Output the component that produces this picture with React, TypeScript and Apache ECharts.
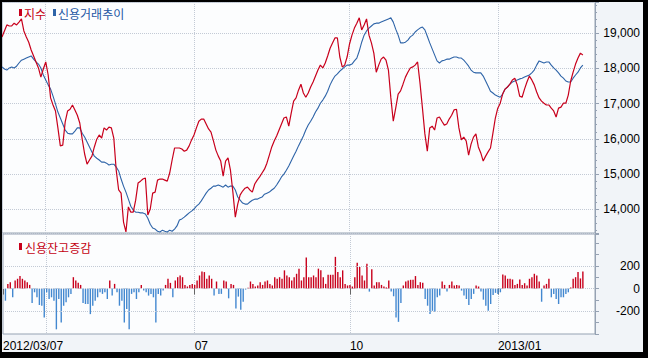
import { useEffect, useRef } from "react";
import * as echarts from "echarts";

// ---- calendar (trading days) ----
const START_DATE = "2012-03-07";
const HOLIDAYS = [
  "2012-04-11", "2012-05-01", "2012-05-28", "2012-06-06", "2012-08-15",
  "2012-10-01", "2012-10-03", "2012-12-19", "2012-12-25", "2012-12-31",
  "2013-01-01", "2013-02-11", "2013-03-01",
];
const AXIS_DAYS = 245;
const QUARTER_MONTHS = ["01", "04", "07", "10"];

// ---- series names ----
const INDEX_NAME = "지수";
const CREDIT_NAME = "신용거래추이";
const CHANGE_NAME = "신용잔고증감";

// ---- 지수 (red line) ----
const indexValues = [
  18890, 19060, 19230, 19200, 19200, 19280, 19230, 19310, 19400, 19060,
  18890, 18740, 18520, 18350, 18180, 18010, 17750, 17980, 18180, 17810,
  17160, 16960, 16790, 16310, 15800, 15820, 16480, 16790, 16840, 16960,
  16820, 16670, 16450, 15990, 15570, 15280, 15400, 15510, 15770, 15990,
  16110, 16020, 16310, 16250, 16330, 16310, 16020, 15110, 14550, 14460,
  13640, 13360, 14070, 13920, 13920, 14260, 14750, 14800, 14860, 14890,
  13840, 14010, 14460, 14490, 14830, 14860, 14860, 14830, 14800, 15030,
  15400, 15740, 15740, 15740, 15710, 15650, 15680, 15800, 15970, 16110,
  16310, 16500, 16560, 16560, 16420, 16280, 16190, 15940, 15680, 15510,
  15370, 14940, 15370, 15460, 15110, 14490, 13780, 14150, 14410, 14520,
  14600, 14630, 14550, 14490, 14720, 14830, 14920, 15030, 15140, 15310,
  15540, 15770, 15940, 16080, 16250, 16420, 16590, 16620, 16360, 16730,
  17070, 17160, 17380, 17550, 17300, 17180, 17300, 17470, 17610, 17780,
  17950, 18090, 18010, 18150, 18350, 18570, 18720, 18860, 18860, 18320,
  18040, 18090, 18320, 18690, 18940, 19140, 19280, 19430, 19090, 19230,
  19400, 18940, 18720, 18430, 17890, 18090, 18260, 18320, 18230, 17950,
  17160, 16500, 16870, 17270, 17360, 17550, 17750, 17890, 18010, 18040,
  18090, 18180, 17580, 16870, 16140, 15650, 16310, 16360, 16250, 16590,
  16620, 16500, 16390, 16420, 16560, 16670, 16820, 16840, 16310, 15970,
  16050, 15940, 15540, 15850, 16050, 16140, 15770, 15600, 15370, 15510,
  15630, 15740, 16160, 16590, 16870, 17010, 17270, 17410, 17470, 17550,
  17670, 17720, 17530, 17210, 17180, 17410, 17610, 17780, 17670, 17530,
  17330, 17160, 17070, 17010, 16960, 16960, 16870, 16790, 16620, 16870,
  16900, 17010, 17010, 17240, 17640, 17890, 18120, 18290, 18430, 18380,
];

// ---- 신용거래추이 (blue line) ----
const creditValues = [
  18040, 17980, 17950, 18010, 18040, 18010, 18060, 18150, 18230, 18260,
  18290, 18320, 18350, 18260, 18180, 18120, 18010, 17810, 17670, 17530,
  17410, 17210, 16990, 16760, 16590, 16420, 16250, 16160, 16140, 16140,
  16220, 16310, 16310, 16160, 16050, 15910, 15770, 15630, 15510, 15450,
  15400, 15340, 15340, 15310, 15260, 15280, 15280, 15200, 15090, 14860,
  14660, 14490, 14290, 14090, 13980, 13920, 13920, 13900, 13900, 13870,
  13750, 13580, 13470, 13440, 13380, 13360, 13410, 13380, 13360, 13410,
  13380, 13440, 13530, 13700, 13730, 13780, 13840, 13900, 13950, 14010,
  14090, 14150, 14240, 14350, 14460, 14550, 14600, 14660, 14660, 14690,
  14660, 14630, 14690, 14630, 14660, 14660, 14550, 14350, 14260, 14180,
  14150, 14150, 14210, 14260, 14290, 14290, 14320, 14350, 14430, 14460,
  14490, 14550, 14600, 14690, 14800, 14920, 15000, 15110, 15230, 15370,
  15510, 15650, 15800, 15940, 16080, 16250, 16390, 16500, 16620, 16760,
  16870, 17010, 17100, 17210, 17350, 17530, 17670, 17780, 17840, 17920,
  17980, 18040, 18090, 18090, 18120, 18210, 18290, 18490, 18740, 18940,
  19060, 19140, 19200, 19260, 19280, 19280, 19310, 19340, 19370, 19400,
  19430, 19310, 19110, 18940, 18720, 18720, 18740, 18800, 18890, 18940,
  19030, 19090, 19140, 19170, 19090, 18910, 18720, 18550, 18380, 18210,
  18150, 18210, 18230, 18260, 18260, 18290, 18320, 18320, 18290, 18290,
  18230, 18150, 18060, 17950, 17890, 17870, 17870, 17870, 17780, 17640,
  17500, 17350, 17300, 17240, 17210, 17180, 17270, 17410, 17470, 17550,
  17610, 17640, 17670, 17700, 17720, 17750, 17780, 17810, 17870, 17950,
  18090, 18210, 18180, 18150, 18180, 18180, 18090, 18010, 17950, 17870,
  17780, 17720, 17640, 17610, 17610, 17720, 17810, 17890, 18010, 18090,
];

// ---- 신용잔고증감 (bars) ----
const changeValues = [
  0, -107, 41, 56, -77, 71, 86, 110, 86, 71,
  56, 32, -127, -33, -77, -145, -151, -255, -33, -92,
  -77, -107, -359, -92, -299, -151, -121, -77, -47, 100,
  71, 50, 32, -127, -136, -136, -225, -151, -107, -77,
  -33, -47, -33, -92, 71, -62, 41, -33, -151, -107,
  -299, -180, -359, -47, -33, -92, -33, 32, -18, -33,
  -62, -47, -77, -299, -47, -62, -18, 32, 86, 50,
  -77, 71, 100, 115, 100, 32, 18, 32, 41, 32,
  71, 115, 151, 145, 86, 115, 86, -62, 62, -47,
  -47, 71, 62, -86, 41, 32, -175, -71, -186, -116,
  -9, 6, 62, 41, 18, 27, 56, 32, 62, 71,
  41, 27, 100, 86, 100, 86, 160, 115, 100, 71,
  100, 130, 175, 71, 100, 273, 100, 100, 115, 100,
  175, 160, 100, 41, 121, 121, 121, 279, 145, 100,
  160, 41, 27, 32, 18, 100, 228, 190, 115, 71,
  219, -27, 169, 27, 56, 56, 32, 18, 10, 71,
  -27, -68, -255, -293, -127, 27, 62, 71, 77, 77,
  110, 32, 56, 50, -92, -151, -225, -196, -204, -77,
  -62, 62, 32, -27, 32, 62, 27, 32, 27, -18,
  -62, -92, -145, -92, -47, 27, 18, -27, -98, -151,
  -196, -136, -56, -38, -47, -33, 124, 115, 86, 86,
  80, 32, 41, 80, 32, 47, 27, 86, 100, 130,
  115, 62, -116, 27, 41, 86, -77, -47, -92, -136,
  -77, -77, -47, -33, 10, 86, 100, 145, 89, 151,
];

// ---- axis settings ----
const MAIN_MIN = 13330;
const MAIN_MAX = 19880;
const SUB_MIN = -400;
const SUB_MAX = 480;
const SUB_LABELS = [-200, 0, 200];

// ---- styles ----
const RED = "#c8001c";
const BLUE_LINE = "#2e64a8";
const BLUE_BAR = "#4388d0";
const RED_TEXT = "#c40012";
const BLUE_TEXT = "#2356a3";
const GRID_COLOR = "#c3cad5";
const AXIS_COLOR = "#96a2b3";
const PAGE_BG = "#f1f4f8";
const PLOT_BG = "#fcfdfe";
const NUM_FONT = '"Liberation Sans", Arial, sans-serif';
const KR_FONT = '"Noto Sans CJK KR", "Noto Sans", sans-serif';

function tradingDays(start: string, count: number, holidays: string[]): string[] {
  const out: string[] = [];
  const d = new Date(start + "T00:00:00Z");
  while (out.length < count) {
    const wd = d.getUTCDay();
    const iso = d.toISOString().slice(0, 10);
    if (wd !== 0 && wd !== 6 && !holidays.includes(iso)) out.push(iso.replace(/-/g, "/"));
    d.setUTCDate(d.getUTCDate() + 1);
  }
  return out;
}

const categories = tradingDays(START_DATE, AXIS_DAYS, HOLIDAYS);
const quarterStarts = new Set<number>();
categories.forEach((c, i) => {
  if (i === 0) return;
  const m = c.slice(5, 7);
  if (m !== categories[i - 1].slice(5, 7) && QUARTER_MONTHS.includes(m)) quarterStarts.add(i);
});
const isLabelled = (i: number) => i === 0 || (quarterStarts.has(i) && i >= 25);
const labelText = (i: number) => {
  if (i === 0) return categories[0];
  const c = categories[i];
  return c.slice(5, 7) === "01" ? c.slice(0, 7) : c.slice(5, 7);
};

function buildOption(): any {
  const gridSplit = {
    show: true,
    interval: (i: number) => quarterStarts.has(i),
    lineStyle: { type: "dotted", color: GRID_COLOR, width: 1 },
  };
  return {
    animation: false,
    backgroundColor: PAGE_BG,
    textStyle: { fontFamily: NUM_FONT },
    grid: [
      { left: 2, top: 2, right: 53, height: 231, show: true, backgroundColor: PLOT_BG, borderColor: AXIS_COLOR, borderWidth: 1 },
      { left: 2, top: 234, right: 53, height: 100, show: true, backgroundColor: PLOT_BG, borderColor: AXIS_COLOR, borderWidth: 1 },
    ],
    xAxis: [
      {
        type: "category", gridIndex: 0, data: categories, boundaryGap: false,
        axisLine: { show: false }, axisTick: { show: false }, axisLabel: { show: false },
        splitLine: gridSplit,
      },
      {
        type: "category", gridIndex: 1, data: categories, boundaryGap: false,
        axisLine: { show: false },
        axisTick: { show: true, interval: (i: number) => isLabelled(i), length: 6, lineStyle: { color: "#666" } },
        axisLabel: {
          show: true, interval: (i: number) => isLabelled(i),
          formatter: (_v: string, i: number) => labelText(i),
          align: "left", margin: 6, fontSize: 12, fontFamily: NUM_FONT, color: "#000",
        },
        splitLine: gridSplit,
      },
    ],
    yAxis: [
      {
        type: "value", gridIndex: 0, position: "right", min: MAIN_MIN, max: MAIN_MAX, splitNumber: 5,
        axisLine: { show: true, lineStyle: { color: AXIS_COLOR } },
        axisTick: { show: true, length: 4, lineStyle: { color: AXIS_COLOR } },
        minorTick: { show: true, splitNumber: 5, length: 2, lineStyle: { color: AXIS_COLOR } },
        axisLabel: {
          showMinLabel: false, showMaxLabel: false, align: "right", margin: 45,
          fontSize: 12, fontFamily: NUM_FONT, color: "#000",
          formatter: (v: number) => v.toLocaleString("en-US"),
        },
        splitLine: { show: true, lineStyle: { type: "dotted", color: GRID_COLOR } },
      },
      {
        type: "value", gridIndex: 1, position: "right", min: SUB_MIN, max: SUB_MAX, interval: 100,
        axisLine: { show: true, lineStyle: { color: AXIS_COLOR } },
        axisTick: { show: true, length: 4, lineStyle: { color: AXIS_COLOR } },
        axisLabel: {
          align: "right", margin: 45, fontSize: 12, fontFamily: NUM_FONT, color: "#000",
          formatter: (v: number) => (SUB_LABELS.includes(v) ? String(v) : ""),
        },
        splitLine: { show: false },
      },
    ],
    series: [
      {
        name: INDEX_NAME, type: "line", xAxisIndex: 0, yAxisIndex: 0, data: indexValues,
        symbol: "none", lineStyle: { color: RED, width: 1.2 }, itemStyle: { color: RED }, z: 3,
      },
      {
        name: CREDIT_NAME, type: "line", xAxisIndex: 0, yAxisIndex: 0, data: creditValues,
        symbol: "none", lineStyle: { color: BLUE_LINE, width: 1.1 }, itemStyle: { color: BLUE_LINE }, z: 2,
      },
      {
        name: CHANGE_NAME, type: "bar", xAxisIndex: 1, yAxisIndex: 1, data: changeValues,
        barWidth: 1.4,
        itemStyle: { color: (p: any) => (p.value >= 0 ? RED : BLUE_BAR) },
        markLine: {
          silent: true, symbol: ["none", "none"], label: { show: false },
          lineStyle: { type: "dotted", color: GRID_COLOR, width: 1 },
          data: SUB_LABELS.map((v) => ({ yAxis: v })),
        },
      },
    ],
    graphic: [
      { type: "rect", shape: { x: 19, y: 9, width: 3, height: 7 }, style: { fill: RED }, z: 50 },
      { type: "text", x: 24, y: 13, style: { text: INDEX_NAME, fill: RED_TEXT, font: `12px ${KR_FONT}`, textVerticalAlign: "middle" }, z: 50 },
      { type: "rect", shape: { x: 53, y: 9, width: 3, height: 7 }, style: { fill: BLUE_LINE }, z: 50 },
      { type: "text", x: 58, y: 13, style: { text: CREDIT_NAME, fill: BLUE_TEXT, font: `12px ${KR_FONT}`, textVerticalAlign: "middle" }, z: 50 },
      { type: "rect", shape: { x: 19, y: 243, width: 3, height: 7 }, style: { fill: RED }, z: 50 },
      { type: "text", x: 25, y: 247, style: { text: CHANGE_NAME, fill: RED_TEXT, font: `12px ${KR_FONT}`, textVerticalAlign: "middle" }, z: 50 },
      // outer frame
      { type: "rect", shape: { x: 0, y: 0, width: 648, height: 2 }, style: { fill: "#000" }, z: 100 },
      { type: "rect", shape: { x: 0, y: 0, width: 2, height: 358 }, style: { fill: "#000" }, z: 100 },
      { type: "rect", shape: { x: 643, y: 0, width: 5, height: 358 }, style: { fill: "#000" }, z: 100 },
      { type: "rect", shape: { x: 0, y: 352, width: 648, height: 6 }, style: { fill: "#000" }, z: 100 },
    ],
  };
}

export default function App() {
  const ref = useRef<HTMLDivElement>(null);
  useEffect(() => {
    if (!ref.current) return;
    const chart = echarts.init(ref.current, null, { renderer: "svg" });
    chart.setOption(buildOption());
    return () => chart.dispose();
  }, []);
  return (
    <div
      ref={ref}
      style={{ position: "fixed", left: 0, top: 0, width: 648, height: 358, background: PAGE_BG }}
    />
  );
}
